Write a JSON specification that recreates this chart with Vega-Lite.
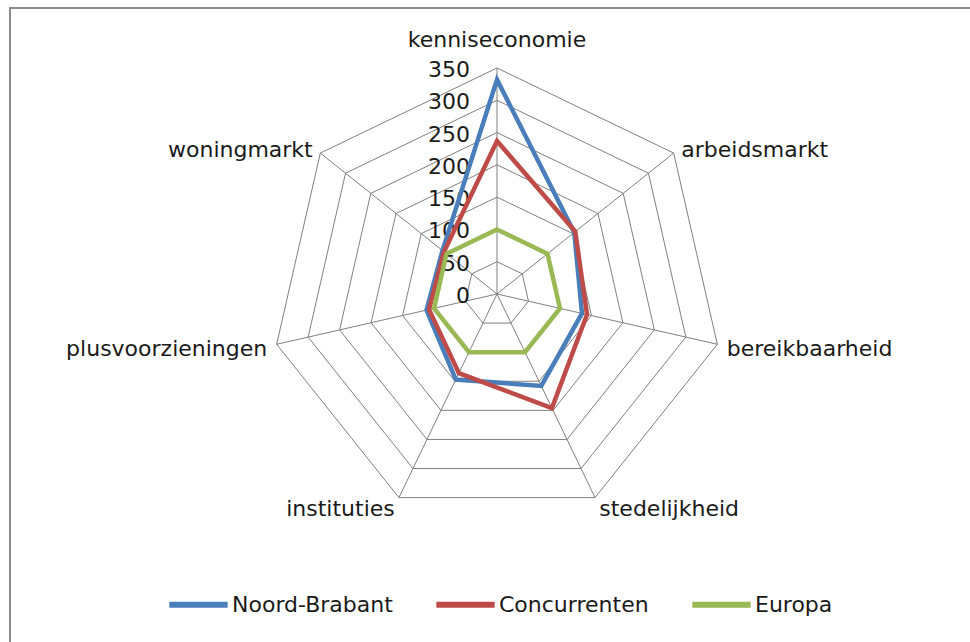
{
  "$schema": "https://vega.github.io/schema/vega-lite/v6.json",
  "width": 980,
  "height": 660,
  "autosize": {"type": "none"},
  "padding": {"left": 10, "top": 8, "right": 0, "bottom": 0},
  "background": "white",
  "view": {"stroke": "#8a8a8a", "strokeWidth": 2},
  "config": {"font": "DejaVu Sans", "text": {"font": "DejaVu Sans"}},
  "datasets": {
    "cats": [
      {"cat": "kenniseconomie", "i": 0, "rings": [50, 100, 150, 200, 250, 300, 350]},
      {"cat": "arbeidsmarkt", "i": 1, "rings": [50, 100, 150, 200, 250, 300, 350]},
      {"cat": "bereikbaarheid", "i": 2, "rings": [50, 100, 150, 200, 250, 300, 350]},
      {"cat": "stedelijkheid", "i": 3, "rings": [50, 100, 150, 200, 250, 300, 350]},
      {"cat": "instituties", "i": 4, "rings": [50, 100, 150, 200, 250, 300, 350]},
      {"cat": "plusvoorzieningen", "i": 5, "rings": [50, 100, 150, 200, 250, 300, 350]},
      {"cat": "woningmarkt", "i": 6, "rings": [50, 100, 150, 200, 250, 300, 350]}
    ],
    "ticks": [
      {"t": 0}, {"t": 50}, {"t": 100}, {"t": 150}, {"t": 200}, {"t": 250}, {"t": 300}, {"t": 350}
    ],
    "scores": [
      {"cat": "kenniseconomie", "reeks": "Noord-Brabant", "waarde": 332},
      {"cat": "arbeidsmarkt", "reeks": "Noord-Brabant", "waarde": 153},
      {"cat": "bereikbaarheid", "reeks": "Noord-Brabant", "waarde": 135},
      {"cat": "stedelijkheid", "reeks": "Noord-Brabant", "waarde": 158},
      {"cat": "instituties", "reeks": "Noord-Brabant", "waarde": 147},
      {"cat": "plusvoorzieningen", "reeks": "Noord-Brabant", "waarde": 112},
      {"cat": "woningmarkt", "reeks": "Noord-Brabant", "waarde": 108},
      {"cat": "kenniseconomie", "reeks": "Concurrenten", "waarde": 237},
      {"cat": "arbeidsmarkt", "reeks": "Concurrenten", "waarde": 155},
      {"cat": "bereikbaarheid", "reeks": "Concurrenten", "waarde": 143},
      {"cat": "stedelijkheid", "reeks": "Concurrenten", "waarde": 196},
      {"cat": "instituties", "reeks": "Concurrenten", "waarde": 136},
      {"cat": "plusvoorzieningen", "reeks": "Concurrenten", "waarde": 108},
      {"cat": "woningmarkt", "reeks": "Concurrenten", "waarde": 105},
      {"cat": "kenniseconomie", "reeks": "Europa", "waarde": 100},
      {"cat": "arbeidsmarkt", "reeks": "Europa", "waarde": 100},
      {"cat": "bereikbaarheid", "reeks": "Europa", "waarde": 100},
      {"cat": "stedelijkheid", "reeks": "Europa", "waarde": 100},
      {"cat": "instituties", "reeks": "Europa", "waarde": 100},
      {"cat": "plusvoorzieningen", "reeks": "Europa", "waarde": 100},
      {"cat": "woningmarkt", "reeks": "Europa", "waarde": 100}
    ]
  },
  "layer": [
    {
      "data": {"name": "cats"},
      "transform": [
        {"flatten": ["rings"], "as": ["ring"]},
        {"calculate": "datum.i * 2 * PI / 7", "as": "a"},
        {"calculate": "datum.ring * sin(datum.a)", "as": "gx"},
        {"calculate": "datum.ring * cos(datum.a)", "as": "gy"}
      ],
      "mark": {"type": "line", "interpolate": "linear-closed", "stroke": "#808080", "strokeWidth": 1},
      "encoding": {
        "x": {"field": "gx", "type": "quantitative", "scale": {"domain": [-754.2, 763.5], "nice": false, "zero": false}, "axis": null},
        "y": {"field": "gy", "type": "quantitative", "scale": {"domain": [-579.2, 442.9], "nice": false, "zero": false}, "axis": null},
        "detail": {"field": "ring", "type": "nominal"},
        "order": {"field": "i", "type": "quantitative"}
      }
    },
    {
      "data": {"name": "cats"},
      "transform": [
        {"calculate": "datum.i * 2 * PI / 7", "as": "a"},
        {"calculate": "350 * sin(datum.a)", "as": "sx"},
        {"calculate": "350 * cos(datum.a)", "as": "sy"},
        {"calculate": "0", "as": "zero"}
      ],
      "mark": {"type": "rule", "stroke": "#808080", "strokeWidth": 1},
      "encoding": {
        "x": {"field": "zero", "type": "quantitative"},
        "y": {"field": "zero", "type": "quantitative"},
        "x2": {"field": "sx"},
        "y2": {"field": "sy"}
      }
    },
    {
      "data": {"name": "ticks"},
      "transform": [{"calculate": "0", "as": "zero"}],
      "mark": {"type": "text", "align": "right", "baseline": "middle", "dx": -27, "dy": 2, "fontSize": 22, "color": "#1a1a1a"},
      "encoding": {
        "x": {"field": "zero", "type": "quantitative"},
        "y": {"field": "t", "type": "quantitative"},
        "text": {"field": "t", "type": "quantitative"}
      }
    },
    {
      "data": {"name": "scores"},
      "transform": [
        {"lookup": "cat", "from": {"data": {"name": "cats"}, "key": "cat", "fields": ["i"]}},
        {"calculate": "datum.i * 2 * PI / 7", "as": "a"},
        {"calculate": "datum.waarde * sin(datum.a)", "as": "px"},
        {"calculate": "datum.waarde * cos(datum.a)", "as": "py"}
      ],
      "mark": {"type": "line", "interpolate": "linear-closed", "strokeWidth": 4.5},
      "encoding": {
        "x": {"field": "px", "type": "quantitative"},
        "y": {"field": "py", "type": "quantitative"},
        "color": {
          "field": "reeks",
          "type": "nominal",
          "scale": {"domain": ["Noord-Brabant", "Concurrenten", "Europa"], "range": ["#4a7ebb", "#be4b48", "#98b954"]},
          "legend": {
            "title": null,
            "orient": "none",
            "direction": "horizontal",
            "legendX": 156,
            "legendY": 564,
            "symbolType": "stroke",
            "symbolSize": 3400,
            "symbolStrokeWidth": 6,
            "labelFontSize": 22,
            "labelFont": "DejaVu Sans",
            "labelColor": "#1a1a1a",
            "labelOffset": 1,
            "labelLimit": 400,
            "columnPadding": 31
          }
        },
        "order": {"field": "i", "type": "quantitative"}
      }
    },
    {
      "data": {"name": "cats"},
      "transform": [
        {"filter": "datum.i == 0"},
        {"calculate": "datum.i * 2 * PI / 7", "as": "a"},
        {"calculate": "365 * sin(datum.a)", "as": "lx"},
        {"calculate": "365 * cos(datum.a)", "as": "ly"}
      ],
      "mark": {"type": "text", "align": "center", "baseline": "middle", "dy": -18, "fontSize": 22, "color": "#1a1a1a"},
      "encoding": {
        "x": {"field": "lx", "type": "quantitative"},
        "y": {"field": "ly", "type": "quantitative"},
        "text": {"field": "cat"}
      }
    },
    {
      "data": {"name": "cats"},
      "transform": [
        {"filter": "datum.i >= 1 && datum.i <= 3"},
        {"calculate": "datum.i * 2 * PI / 7", "as": "a"},
        {"calculate": "365 * sin(datum.a)", "as": "lx"},
        {"calculate": "365 * cos(datum.a)", "as": "ly"}
      ],
      "mark": {"type": "text", "align": "left", "baseline": "middle", "dy": 3, "fontSize": 22, "color": "#1a1a1a"},
      "encoding": {
        "x": {"field": "lx", "type": "quantitative"},
        "y": {"field": "ly", "type": "quantitative"},
        "text": {"field": "cat"}
      }
    },
    {
      "data": {"name": "cats"},
      "transform": [
        {"filter": "datum.i >= 4"},
        {"calculate": "datum.i * 2 * PI / 7", "as": "a"},
        {"calculate": "365 * sin(datum.a)", "as": "lx"},
        {"calculate": "365 * cos(datum.a)", "as": "ly"}
      ],
      "mark": {"type": "text", "align": "right", "baseline": "middle", "dy": 3, "fontSize": 22, "color": "#1a1a1a"},
      "encoding": {
        "x": {"field": "lx", "type": "quantitative"},
        "y": {"field": "ly", "type": "quantitative"},
        "text": {"field": "cat"}
      }
    }
  ]
}
